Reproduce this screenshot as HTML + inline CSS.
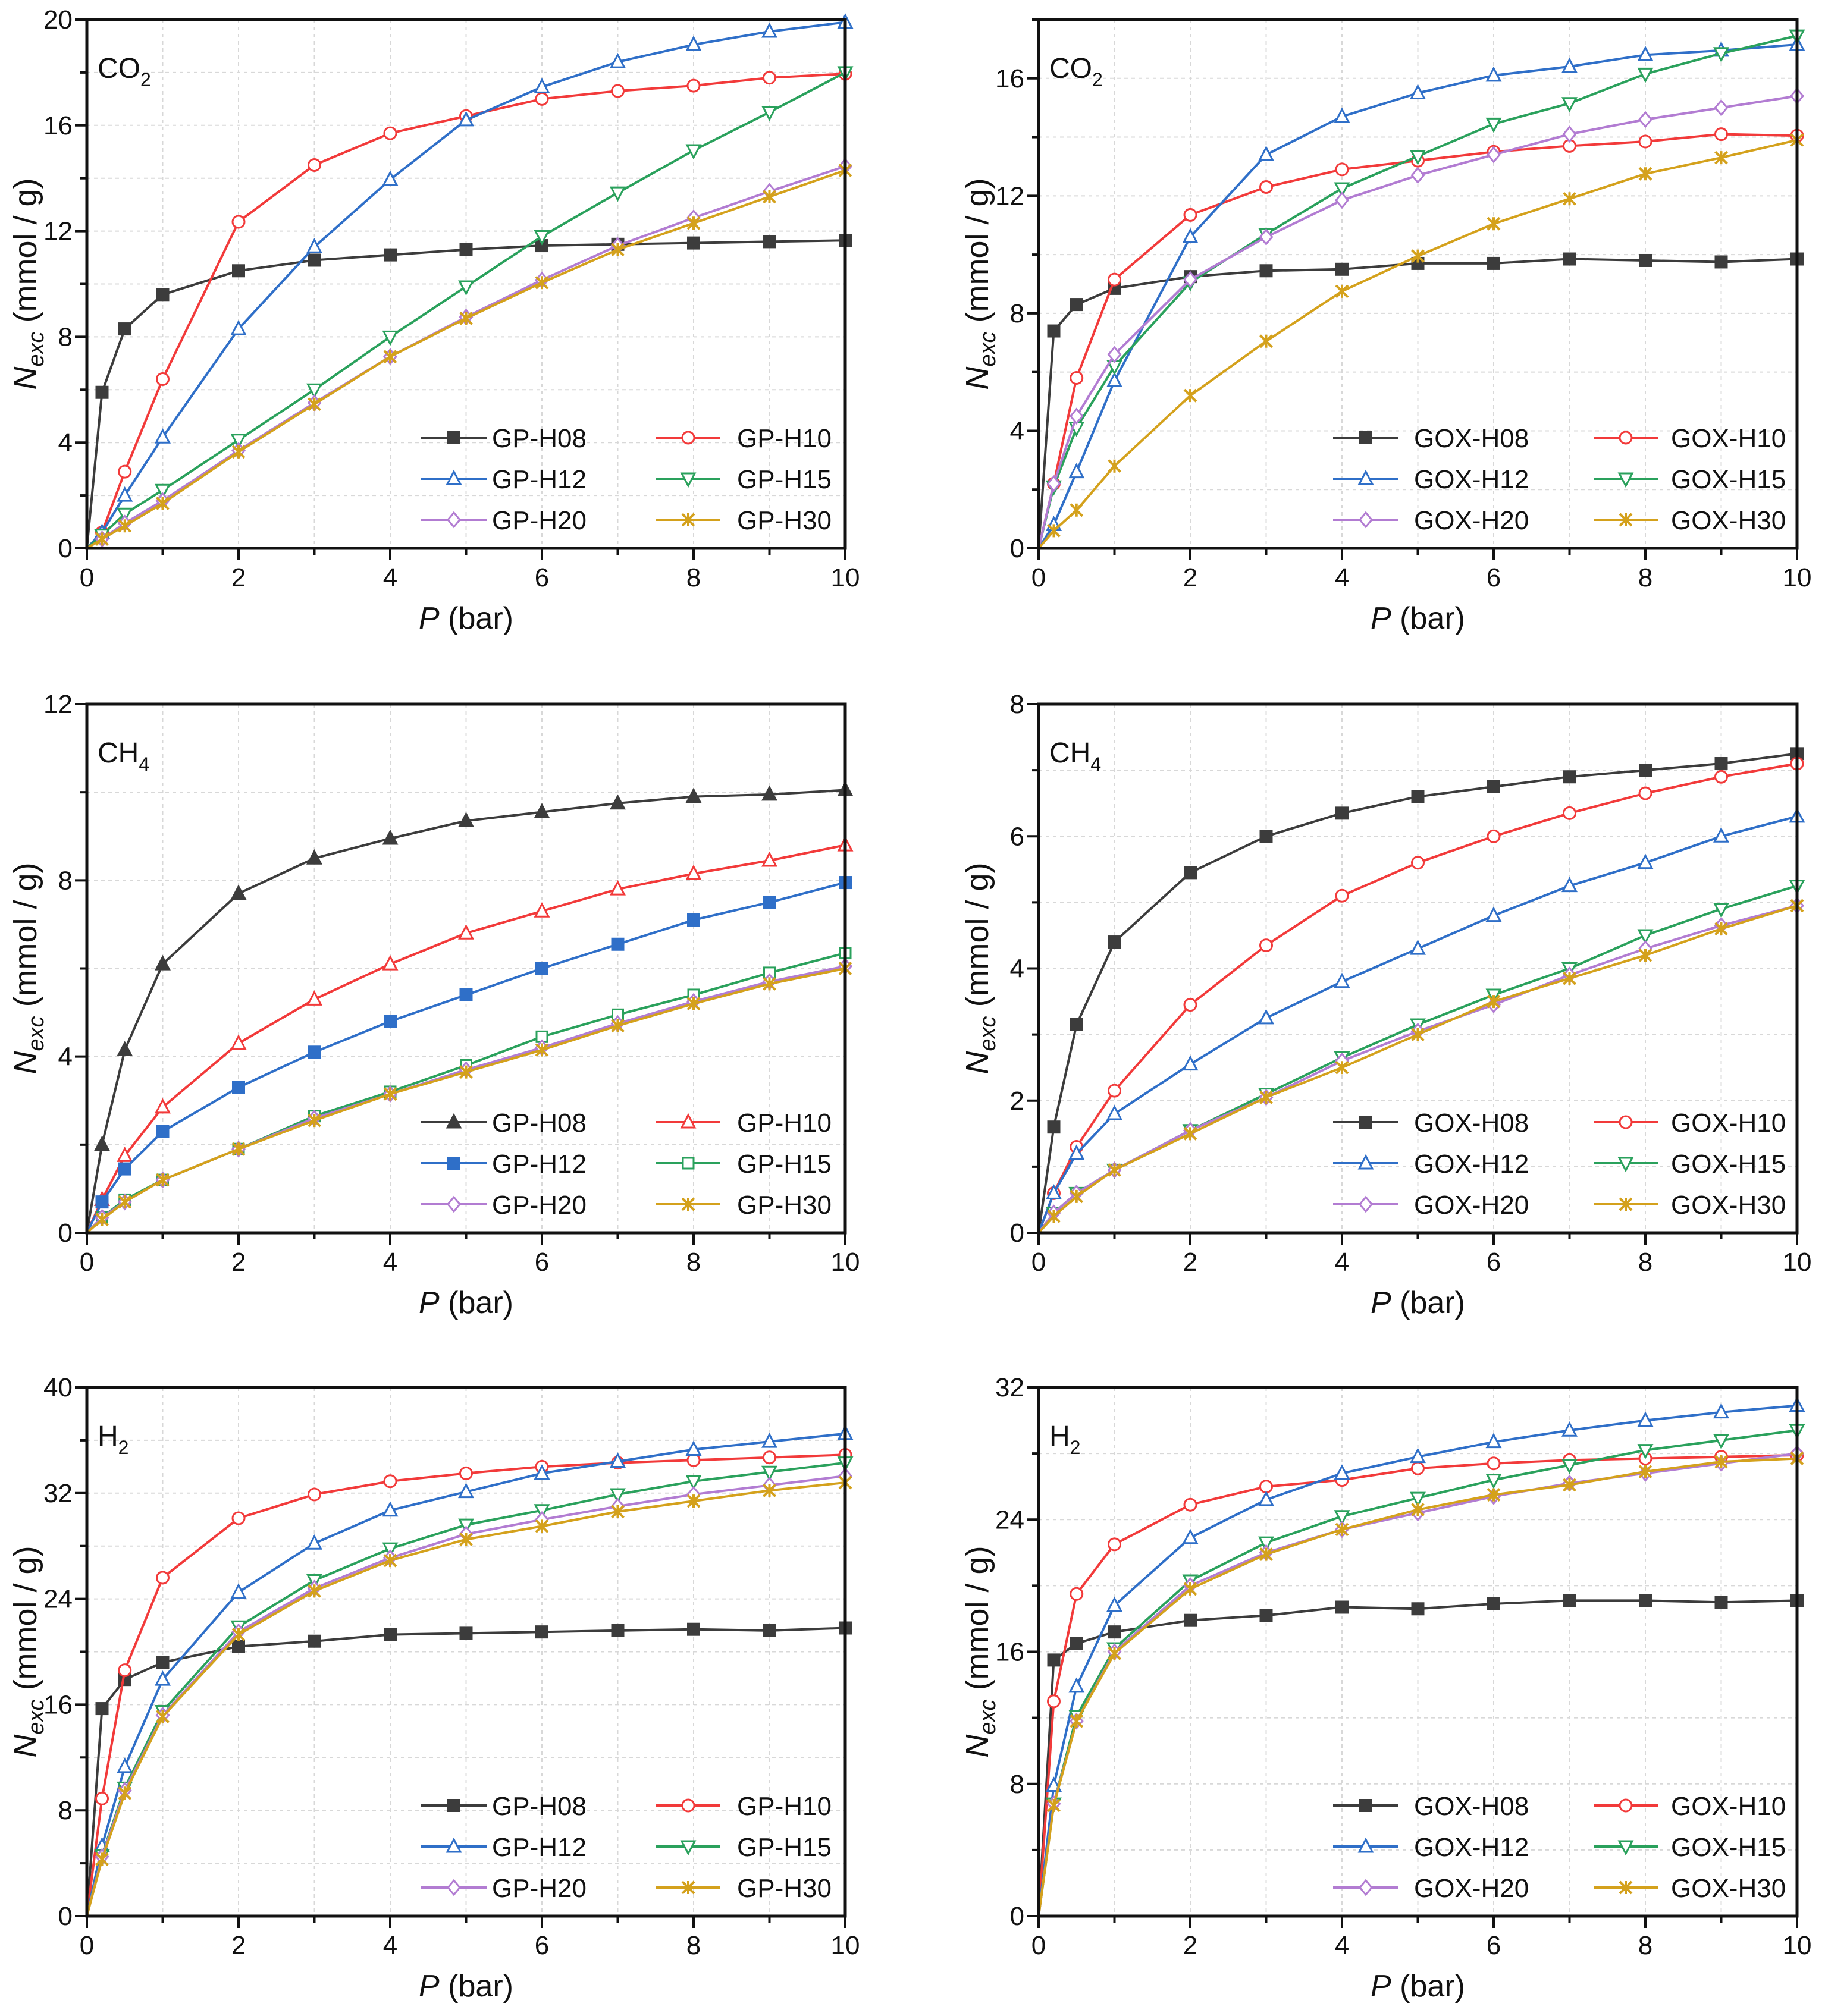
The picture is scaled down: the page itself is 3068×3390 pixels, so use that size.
<!DOCTYPE html>
<html><head><meta charset="utf-8">
<style>
html,body{margin:0;padding:0;background:#fff;}
svg{display:block;font-family:"Liberation Sans","DejaVu Sans",sans-serif;}
</style></head>
<body>
<svg id="chart" width="3068" height="3390" viewBox="0 0 3068 3390" xmlns="http://www.w3.org/2000/svg"></svg>
<script>
const pressures = [0,0.2,0.5,1,2,3,4,5,6,7,8,9,10];
const xTicks = [0,2,4,6,8,10];
const seriesNamesGP = ["GP-H08","GP-H10","GP-H12","GP-H15","GP-H20","GP-H30"];
const seriesNamesGOX = ["GOX-H08","GOX-H10","GOX-H12","GOX-H15","GOX-H20","GOX-H30"];

const co2GP_H08 = [0,5.9,8.3,9.6,10.5,10.9,11.1,11.3,11.45,11.5,11.55,11.6,11.65];
const co2GP_H10 = [0,0.6,2.9,6.4,12.35,14.5,15.7,16.35,17.0,17.3,17.5,17.8,17.95];
const co2GP_H12 = [0,0.6,2.0,4.2,8.3,11.4,13.95,16.2,17.45,18.4,19.05,19.55,19.9];
const co2GP_H15 = [0,0.5,1.3,2.2,4.1,6.0,8.0,9.9,11.8,13.45,15.05,16.5,18.0];
const co2GP_H20 = [0,0.35,0.95,1.8,3.7,5.5,7.25,8.75,10.15,11.45,12.5,13.5,14.45];
const co2GP_H30 = [0,0.35,0.85,1.7,3.65,5.45,7.25,8.7,10.05,11.3,12.3,13.3,14.3];

const co2GOX_H08 = [0,7.4,8.3,8.85,9.25,9.45,9.5,9.7,9.7,9.85,9.8,9.75,9.85];
const co2GOX_H10 = [0,2.2,5.8,9.15,11.35,12.3,12.9,13.2,13.5,13.7,13.85,14.1,14.05];
const co2GOX_H12 = [0,0.8,2.6,5.7,10.6,13.4,14.7,15.5,16.1,16.4,16.8,16.95,17.15];
const co2GOX_H15 = [0,2.1,4.1,6.2,9.05,10.7,12.25,13.35,14.45,15.15,16.15,16.85,17.45];
const co2GOX_H20 = [0,2.2,4.5,6.6,9.15,10.6,11.85,12.7,13.4,14.1,14.6,15.0,15.4];
const co2GOX_H30 = [0,0.6,1.3,2.8,5.2,7.05,8.75,9.95,11.05,11.9,12.75,13.3,13.9];

const ch4GP_H08 = [0,2.0,4.15,6.1,7.7,8.5,8.95,9.35,9.55,9.75,9.9,9.95,10.05];
const ch4GP_H10 = [0,0.75,1.75,2.85,4.3,5.3,6.1,6.8,7.3,7.8,8.15,8.45,8.8];
const ch4GP_H12 = [0,0.7,1.45,2.3,3.3,4.1,4.8,5.4,6.0,6.55,7.1,7.5,7.95];
const ch4GP_H15 = [0,0.35,0.75,1.2,1.9,2.65,3.2,3.8,4.45,4.95,5.4,5.9,6.35];
const ch4GP_H20 = [0,0.35,0.7,1.2,1.9,2.6,3.15,3.7,4.2,4.75,5.25,5.7,6.05];
const ch4GP_H30 = [0,0.3,0.7,1.2,1.9,2.55,3.15,3.65,4.15,4.7,5.2,5.65,6.0];

const ch4GOX_H08 = [0,1.6,3.15,4.4,5.45,6.0,6.35,6.6,6.75,6.9,7.0,7.1,7.25];
const ch4GOX_H10 = [0,0.6,1.3,2.15,3.45,4.35,5.1,5.6,6.0,6.35,6.65,6.9,7.1];
const ch4GOX_H12 = [0,0.6,1.2,1.8,2.55,3.25,3.8,4.3,4.8,5.25,5.6,6.0,6.3];
const ch4GOX_H15 = [0,0.3,0.6,0.95,1.55,2.1,2.65,3.15,3.6,4.0,4.5,4.9,5.25];
const ch4GOX_H20 = [0,0.3,0.6,0.95,1.55,2.05,2.6,3.05,3.45,3.9,4.3,4.65,4.95];
const ch4GOX_H30 = [0,0.25,0.55,0.95,1.5,2.05,2.5,3.0,3.5,3.85,4.2,4.6,4.95];

const h2GP_H08 = [0,15.7,17.9,19.2,20.4,20.8,21.3,21.4,21.5,21.6,21.7,21.6,21.8];
const h2GP_H10 = [0,8.9,18.6,25.6,30.1,31.9,32.9,33.5,34.0,34.3,34.5,34.7,34.9];
const h2GP_H12 = [0,5.3,11.3,17.9,24.5,28.2,30.7,32.1,33.5,34.4,35.3,35.9,36.5];
const h2GP_H15 = [0,4.6,9.7,15.5,21.9,25.4,27.8,29.6,30.7,31.9,32.9,33.6,34.3];
const h2GP_H20 = [0,4.5,9.5,15.2,21.5,24.8,27.1,28.9,30.0,31.0,31.9,32.6,33.3];
const h2GP_H30 = [0,4.3,9.3,15.1,21.3,24.6,26.9,28.5,29.5,30.6,31.4,32.2,32.8];

const h2GOX_H08 = [0,15.5,16.5,17.2,17.9,18.2,18.7,18.6,18.9,19.1,19.1,19.0,19.1];
const h2GOX_H10 = [0,13.0,19.5,22.5,24.9,26.0,26.4,27.1,27.4,27.6,27.7,27.8,27.9];
const h2GOX_H12 = [0,7.9,13.9,18.8,22.9,25.2,26.8,27.8,28.7,29.4,30.0,30.5,30.9];
const h2GOX_H15 = [0,6.8,12.1,16.2,20.3,22.6,24.2,25.3,26.4,27.3,28.2,28.8,29.4];
const h2GOX_H20 = [0,6.8,11.8,16.0,20.0,22.0,23.4,24.4,25.4,26.2,26.8,27.4,28.0];
const h2GOX_H30 = [0,6.7,11.8,15.9,19.8,21.9,23.4,24.6,25.5,26.1,26.9,27.5,27.7];

const yTicksCO2GP = [0,4,8,12,16,20];
const yTicksCO2GOX = [0,4,8,12,16];
const yTicksCH4GP = [0,4,8,12];
const yTicksCH4GOX = [0,2,4,6,8];
const yTicksH2GP = [0,8,16,24,32,40];
const yTicksH2GOX = [0,8,16,24,32];

const NS = "http://www.w3.org/2000/svg";
const svg = document.getElementById("chart");
const COLORS = ["#3c3c3c","#f23a3a","#2f6fc8","#2aa15c","#b27cd2","#d4a11c"];

function mk(tag, attrs, parent){
  const e = document.createElementNS(NS, tag);
  for (const k in attrs) e.setAttribute(k, attrs[k]);
  (parent||svg).appendChild(e);
  return e;
}

function marker(g, type, cx, cy, color, name){
  const r = 10;
  let e;
  const fillOpen = "#fff";
  if (type === "sqf"){
    e = mk("rect",{x:cx-r,y:cy-r,width:2*r,height:2*r,fill:color,stroke:color,"stroke-width":2},g);
  } else if (type === "sqo"){
    e = mk("rect",{x:cx-r+1,y:cy-r+1,width:2*r-2,height:2*r-2,fill:fillOpen,stroke:color,"stroke-width":3},g);
  } else if (type === "circ"){
    e = mk("circle",{cx:cx,cy:cy,r:r,fill:fillOpen,stroke:color,"stroke-width":3},g);
  } else if (type === "triu" || type === "triuf"){
    e = mk("polygon",{points:`${cx},${cy-r-2} ${cx-r-1},${cy+r-1} ${cx+r+1},${cy+r-1}`,fill:type==="triuf"?color:fillOpen,stroke:color,"stroke-width":3},g);
  } else if (type === "trid"){
    e = mk("polygon",{points:`${cx},${cy+r+2} ${cx-r-1},${cy-r+1} ${cx+r+1},${cy-r+1}`,fill:fillOpen,stroke:color,"stroke-width":3},g);
  } else if (type === "diam"){
    e = mk("polygon",{points:`${cx},${cy-r-2} ${cx+r},${cy} ${cx},${cy+r+2} ${cx-r},${cy}`,fill:fillOpen,stroke:color,"stroke-width":3},g);
  } else {
    e = mk("path",{d:`M${cx-r},${cy-r}L${cx+r},${cy+r}M${cx+r},${cy-r}L${cx-r},${cy+r}M${cx},${cy-r-1}L${cx},${cy+r+1}`,fill:"none",stroke:color,"stroke-width":4},g);
  }
  
  
  return e;
}

function panel(cfg){
  const L = cfg.left, T = cfg.top, W = 1275, H = 889, R = L + W, B = T + H;
  const ymax = cfg.ymax;
  const xs = v => L + v / 10 * W;
  const ys = v => B - v / ymax * H;
  const g = mk("g",{});
  
  

  // grid
  const grid = mk("g",{},g);
  
  
  for (let v = 1; v < 10; v++){
    mk("line",{x1:xs(v),x2:xs(v),y1:T,y2:B,stroke:"#d8d8d8","stroke-width":2,"stroke-dasharray":"6,6"},grid);
  }
  const step = cfg.yTicks[1] - cfg.yTicks[0];
  for (let v = step/2; v < ymax - 1e-9; v += step/2){
    mk("line",{x1:L,x2:R,y1:ys(v),y2:ys(v),stroke:"#d8d8d8","stroke-width":2,"stroke-dasharray":"6,6"},grid);
  }

  // series
  const dataSets = cfg.series;
  dataSets.forEach((vals, i) => {
    const sg = mk("g",{},g);
    
    
    const pts = pressures.map((p, k) => xs(p).toFixed(1) + "," + ys(vals[k]).toFixed(1)).join(" ");
    const pl = mk("polyline",{points:pts,fill:"none",stroke:COLORS[i],"stroke-width":4,"stroke-linejoin":"round"},sg);
    
    
    pressures.forEach((p, k) => {
      if (k === 0) return;
      marker(sg, cfg.markers[i], xs(p), ys(vals[k]), COLORS[i], 'point');
    });
  });

  // axes frame
  const frame = mk("rect",{x:L,y:T,width:W,height:H,fill:"none",stroke:"#111","stroke-width":5},g);
  
  

  // x ticks
  for (let v = 0; v <= 10; v++){
    const major = v % 2 === 0;
    mk("line",{x1:xs(v),x2:xs(v),y1:B,y2:B+(major?20:11),stroke:"#111","stroke-width":4},g);
  }
  xTicks.forEach(v => {
    const t = mk("text",{x:xs(v),y:B+64,"text-anchor":"middle","font-size":44,fill:"#111"},g);
    t.textContent = v;
    
    
  });
  // y ticks
  for (let v = 0; v <= ymax + 1e-9; v += step/2){
    const major = Math.abs(v / step - Math.round(v / step)) < 1e-6;
    mk("line",{x1:L-(major?20:11),x2:L,y1:ys(v),y2:ys(v),stroke:"#111","stroke-width":4},g);
  }
  cfg.yTicks.forEach(v => {
    const t = mk("text",{x:L-24,y:ys(v)+15,"text-anchor":"end","font-size":44,fill:"#111"},g);
    t.textContent = v;
    
    
  });

  // x title
  const xt = mk("text",{x:L+W/2,y:B+135,"text-anchor":"middle","font-size":52,fill:"#111"},g);
  xt.innerHTML = '<tspan font-style="italic">P</tspan> (bar)';
  
  
  // y title
  const cy = T + H/2, cx = L - 85;
  const yt = mk("text",{x:cx,y:cy,"text-anchor":"middle","font-size":54,fill:"#111",transform:`rotate(-90 ${cx} ${cy})`},g);
  yt.innerHTML = '<tspan font-style="italic">N</tspan><tspan font-style="italic" font-size="38" dy="12">exc</tspan><tspan dy="-12"> (mmol / g)</tspan>';
  
  

  // gas label
  const gl = mk("text",{x:L+18,y:T+98,"font-size":48,fill:"#111"},g);
  gl.innerHTML = cfg.gas + '<tspan font-size="32" dy="14">2</tspan>';
  if (cfg.gas === "CH") gl.innerHTML = 'CH<tspan font-size="32" dy="14">4</tspan>';
  
  

  // legend
  const lg = mk("g",{},g);
  
  
  const rows = [B-186, B-117, B-48];
  cfg.names.forEach((nm, i) => {
    const col = i % 2, row = Math.floor(i / 2);
    const c = cfg.legendCols[col];
    const y = rows[row];
    const eg = mk("g",{},lg);
    
    
    mk("line",{x1:L+c[0],x2:L+c[1],y1:y,y2:y,stroke:COLORS[i],"stroke-width":4},eg);
    marker(eg, cfg.markers[i], L+(c[0]+c[1])/2, y, COLORS[i], 'legend-marker');
    const t = mk("text",{x:L+c[2],y:y+16,"font-size":44,fill:"#111"},eg);
    t.textContent = nm;
  });
}

const legGP = [[562,672,681],[957,1065,1093]];
const legGOX = [[495,605,631],[933,1041,1063]];
const mkStd = ["sqf","circ","triu","trid","diam","star"];

panel({name:"panel-co2-gp",left:146,top:33,ymax:20,yTicks:yTicksCO2GP,gas:"CO",names:seriesNamesGP,markers:mkStd,legendCols:legGP,
  series:[co2GP_H08,co2GP_H10,co2GP_H12,co2GP_H15,co2GP_H20,co2GP_H30]});
panel({name:"panel-co2-gox",left:1746,top:33,ymax:18,yTicks:yTicksCO2GOX,gas:"CO",names:seriesNamesGOX,markers:mkStd,legendCols:legGOX,
  series:[co2GOX_H08,co2GOX_H10,co2GOX_H12,co2GOX_H15,co2GOX_H20,co2GOX_H30]});
panel({name:"panel-ch4-gp",left:146,top:1184,ymax:12,yTicks:yTicksCH4GP,gas:"CH",names:seriesNamesGP,markers:["triuf","triu","sqf","sqo","diam","star"],legendCols:legGP,
  series:[ch4GP_H08,ch4GP_H10,ch4GP_H12,ch4GP_H15,ch4GP_H20,ch4GP_H30]});
panel({name:"panel-ch4-gox",left:1746,top:1184,ymax:8,yTicks:yTicksCH4GOX,gas:"CH",names:seriesNamesGOX,markers:mkStd,legendCols:legGOX,
  series:[ch4GOX_H08,ch4GOX_H10,ch4GOX_H12,ch4GOX_H15,ch4GOX_H20,ch4GOX_H30]});
panel({name:"panel-h2-gp",left:146,top:2333,ymax:40,yTicks:yTicksH2GP,gas:"H",names:seriesNamesGP,markers:mkStd,legendCols:legGP,
  series:[h2GP_H08,h2GP_H10,h2GP_H12,h2GP_H15,h2GP_H20,h2GP_H30]});
panel({name:"panel-h2-gox",left:1746,top:2333,ymax:32,yTicks:yTicksH2GOX,gas:"H",names:seriesNamesGOX,markers:mkStd,legendCols:legGOX,
  series:[h2GOX_H08,h2GOX_H10,h2GOX_H12,h2GOX_H15,h2GOX_H20,h2GOX_H30]});
</script>
</body></html>
